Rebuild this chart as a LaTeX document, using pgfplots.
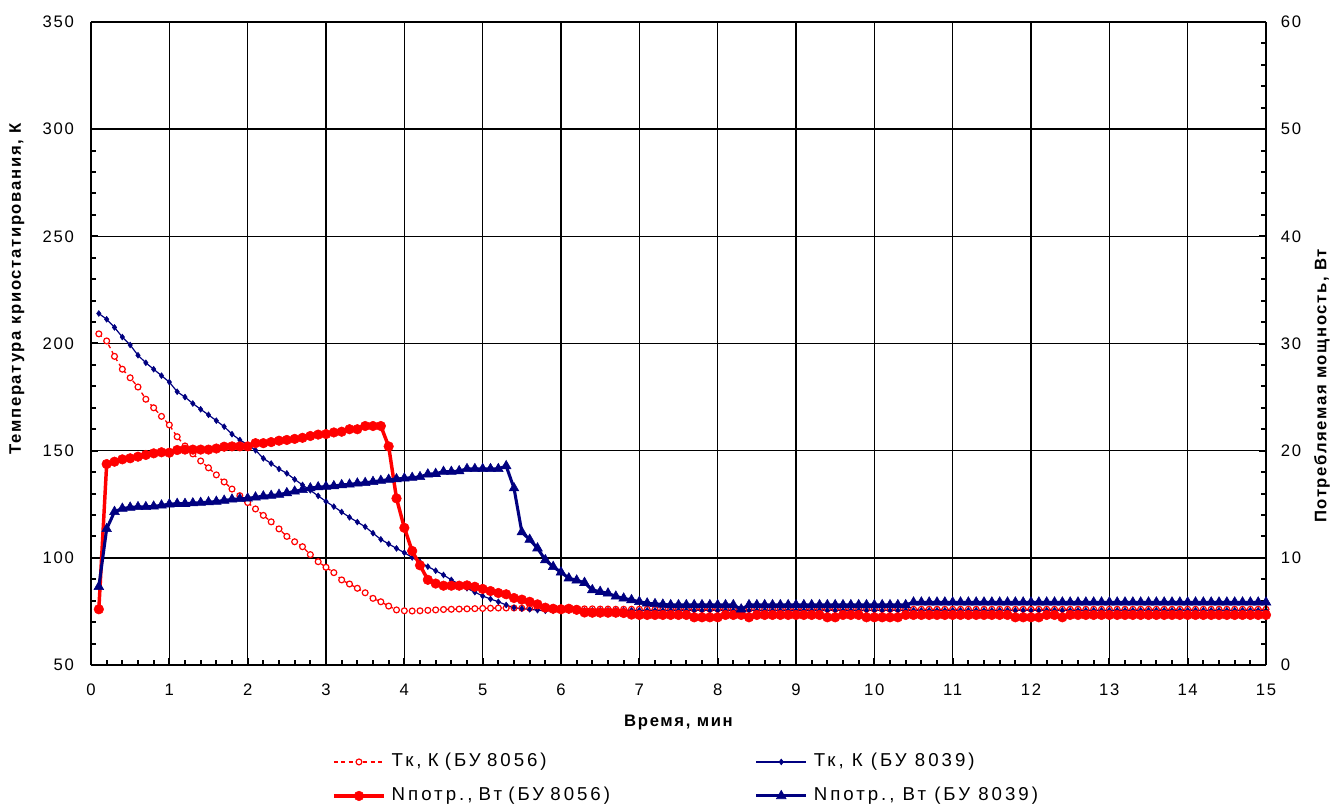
\documentclass[border=0pt]{standalone}
\usepackage{pgfplots}
\pgfplotsset{compat=1.18}
\usepackage{pgfplotstable}
\usepackage{fontspec}
\setmainfont{Liberation Sans}
\newfontfamily\tickfnt[LetterSpace=10]{Liberation Sans}
\newfontfamily\labfnt[LetterSpace=10]{Liberation Sans}
\newfontfamily\legfnt[LetterSpace=16]{Liberation Sans}
\definecolor{navyb}{RGB}{0,0,128}
\definecolor{redc}{RGB}{255,0,0}

\pgfplotstableread{
x tkr tkb nr nb
0.1 204.5 214.0 5.20 7.30
0.2 201.2 211.3 18.75 12.70
0.3 194.0 207.5 18.97 14.30
0.4 188.0 203.0 19.19 14.60
0.5 184.0 199.3 19.29 14.70
0.6 179.7 194.5 19.44 14.75
0.7 174.0 191.0 19.60 14.75
0.8 170.0 188.0 19.75 14.80
0.9 166.0 185.0 19.85 14.90
1.0 162.0 182.0 19.81 15.00
1.1 156.5 177.5 20.06 15.05
1.2 152.2 175.0 20.10 15.05
1.3 148.5 172.0 20.10 15.10
1.4 145.2 169.3 20.10 15.15
1.5 142.0 166.7 20.10 15.20
1.6 138.7 164.0 20.20 15.25
1.7 135.4 161.2 20.37 15.35
1.8 132.1 157.7 20.40 15.45
1.9 129.0 155.0 20.40 15.50
2.0 125.8 152.8 20.40 15.55
2.1 122.8 150.2 20.70 15.65
2.2 119.8 146.4 20.70 15.75
2.3 116.8 144.0 20.80 15.80
2.4 113.5 141.5 20.93 15.90
2.5 110.0 139.4 21.00 16.05
2.6 107.5 136.6 21.10 16.20
2.7 105.2 134.0 21.20 16.35
2.8 101.5 131.5 21.37 16.50
2.9 98.2 128.9 21.50 16.60
3.0 95.6 126.3 21.55 16.65
3.1 93.1 123.9 21.70 16.70
3.2 89.7 121.4 21.77 16.80
3.3 87.8 118.9 22.00 16.85
3.4 85.8 116.7 22.00 16.95
3.5 83.7 114.5 22.30 17.00
3.6 81.1 111.5 22.30 17.10
3.7 79.5 108.6 22.30 17.20
3.8 77.5 106.5 20.40 17.30
3.9 75.7 104.4 15.55 17.35
4.0 75.3 102.4 12.80 17.42
4.1 75.2 100.2 10.64 17.48
4.2 75.3 98.0 9.30 17.55
4.3 75.5 95.9 7.95 17.80
4.4 75.7 94.0 7.60 17.85
4.5 75.9 92.0 7.40 18.04
4.6 76.0 89.7 7.40 18.04
4.7 76.1 87.7 7.40 18.10
4.8 76.2 85.8 7.43 18.30
4.9 76.3 84.0 7.30 18.30
5.0 76.4 82.2 7.10 18.30
5.1 76.5 80.8 6.90 18.30
5.2 76.6 79.5 6.72 18.30
5.3 76.6 78.0 6.60 18.57
5.4 76.6 76.7 6.25 16.50
5.5 76.5 76.3 6.10 12.40
5.6 76.5 76.0 5.90 11.70
5.7 76.5 75.6 5.66 10.90
5.8 76.5 75.3 5.35 9.80
5.9 76.5 75.3 5.25 9.17
6.0 76.5 75.4 5.20 8.65
6.1 76.4 75.4 5.25 8.10
6.2 76.3 75.4 5.15 7.90
6.3 76.2 75.5 4.90 7.68
6.4 76.2 75.5 4.88 7.00
6.5 76.1 75.5 4.88 6.84
6.6 76.1 75.5 4.88 6.69
6.7 76.0 75.5 4.88 6.40
6.8 76.0 75.5 4.85 6.22
6.9 76.0 75.5 4.70 6.07
7.0 76.0 75.5 4.67 5.90
7.1 76.0 75.5 4.67 5.76
7.2 76.0 75.5 4.67 5.70
7.3 76.0 75.5 4.67 5.65
7.4 76.0 75.5 4.67 5.60
7.5 76.0 75.5 4.67 5.60
7.6 76.0 75.5 4.67 5.60
7.7 76.0 75.5 4.45 5.60
7.8 76.0 75.5 4.45 5.60
7.9 76.0 75.5 4.45 5.60
8.0 76.0 75.5 4.45 5.60
8.1 76.0 75.5 4.67 5.60
8.2 76.0 75.5 4.67 5.60
8.3 76.0 75.5 4.67 5.20
8.4 76.0 75.5 4.45 5.60
8.5 76.0 75.5 4.67 5.60
8.6 76.0 75.5 4.67 5.60
8.7 76.0 75.5 4.67 5.60
8.8 76.0 75.5 4.67 5.60
8.9 76.0 75.5 4.67 5.60
9.0 76.0 75.5 4.67 5.60
9.1 76.0 75.5 4.67 5.60
9.2 76.0 75.5 4.67 5.60
9.3 76.0 75.5 4.67 5.60
9.4 76.0 75.5 4.45 5.60
9.5 76.0 75.5 4.45 5.60
9.6 76.0 75.5 4.67 5.60
9.7 76.0 75.5 4.67 5.60
9.8 76.0 75.5 4.67 5.60
9.9 76.0 75.5 4.45 5.60
10.0 76.0 75.5 4.45 5.60
10.1 76.0 75.5 4.45 5.60
10.2 76.0 75.5 4.45 5.60
10.3 76.0 75.5 4.45 5.60
10.4 76.0 75.5 4.67 5.60
10.5 76.0 75.5 4.67 5.85
10.6 76.0 75.5 4.67 5.85
10.7 76.0 75.5 4.67 5.85
10.8 76.0 75.5 4.67 5.85
10.9 76.0 75.5 4.67 5.85
11.0 76.0 75.5 4.67 5.85
11.1 76.0 75.5 4.67 5.85
11.2 76.0 75.5 4.67 5.85
11.3 76.0 75.5 4.67 5.85
11.4 76.0 75.5 4.67 5.85
11.5 76.0 75.5 4.67 5.85
11.6 76.0 75.5 4.67 5.85
11.7 76.0 75.5 4.67 5.85
11.8 76.0 75.5 4.45 5.85
11.9 76.0 75.5 4.45 5.85
12.0 76.0 75.5 4.45 5.85
12.1 76.0 75.5 4.45 5.85
12.2 76.0 75.5 4.67 5.85
12.3 76.0 75.5 4.67 5.85
12.4 76.0 75.5 4.45 5.85
12.5 76.0 75.5 4.67 5.85
12.6 76.0 75.5 4.67 5.85
12.7 76.0 75.5 4.67 5.85
12.8 76.0 75.5 4.67 5.85
12.9 76.0 75.5 4.67 5.85
13.0 76.0 75.5 4.67 5.85
13.1 76.0 75.5 4.67 5.85
13.2 76.0 75.5 4.67 5.85
13.3 76.0 75.5 4.67 5.85
13.4 76.0 75.5 4.67 5.85
13.5 76.0 75.5 4.67 5.85
13.6 76.0 75.5 4.67 5.85
13.7 76.0 75.5 4.67 5.85
13.8 76.0 75.5 4.67 5.85
13.9 76.0 75.5 4.67 5.85
14.0 76.0 75.5 4.67 5.85
14.1 76.0 75.5 4.67 5.85
14.2 76.0 75.5 4.67 5.85
14.3 76.0 75.5 4.67 5.85
14.4 76.0 75.5 4.67 5.85
14.5 76.0 75.5 4.67 5.85
14.6 76.0 75.5 4.67 5.85
14.7 76.0 75.5 4.67 5.85
14.8 76.0 75.5 4.67 5.85
14.9 76.0 75.5 4.67 5.85
15.0 76.0 75.5 4.67 5.85
}\datatable

\tikzset{
  tkrstyle/.style={redc, line width=1pt, dash pattern=on 3pt off 2.5pt, mark=*, mark size=2.2pt, mark options={solid, fill=white, draw=redc, line width=0.9pt}},
  tkbstyle/.style={navyb, line width=0.9pt, mark=diamond*, mark size=2.2pt, mark options={solid, line width=0.4pt}},
  nrstyle/.style={redc, line width=2.6pt, mark=*, mark size=3.6pt, mark options={solid, line width=0.4pt}},
  nbstyle/.style={navyb, line width=2.3pt, mark=triangle*, mark size=4.2pt, mark options={solid, line width=0.4pt}},
}

\begin{document}
\begin{tikzpicture}
\path[use as bounding box] (-68.25pt,-105.75pt) rectangle (931.5pt,498.75pt);
\begin{axis}[
  scale only axis, width=881.25pt, height=482.25pt,
  xmin=0, xmax=15, ymin=50, ymax=350,
  axis x line*=bottom, axis y line*=left,
  axis line style={line width=2pt, black},
  xtick={0,...,15}, ytick={50,100,...,300},
  extra y ticks={350},
  extra y tick style={grid style={gray!70, line width=0.8pt}},
  minor x tick num=4, minor y tick num=4,
  tick align=inside, major tick length=5pt, minor tick length=3.5pt,
  tick style={black, line width=1.5pt},
  grid=major, major grid style={black, line width=1pt},
  /pgf/number format/assume math mode=true,
  tick label style={font=\tickfnt\fontsize{12.5}{15}\selectfont},
  yticklabel style={xshift=-9.3pt},
  xticklabel style={yshift=-10.8pt},
  xlabel={Время, мин},
  ylabel={Температура криостатирования, К},
  label style={font=\labfnt\bfseries\fontsize{12.5}{15}\selectfont},
  xlabel style={at={(axis description cs:0.5,0)}, anchor=base, yshift=-45.75pt},
  ylabel style={at={(axis description cs:-0.063,0.585)}, anchor=center},
]
\addplot[tkrstyle] table[x=x,y=tkr]{\datatable};
\addplot[tkbstyle] table[x=x,y=tkb]{\datatable};
\end{axis}
\begin{axis}[
  scale only axis, width=881.25pt, height=482.25pt,
  xmin=0, xmax=15, ymin=0, ymax=60,
  axis x line=none, axis y line*=right,
  axis line style={line width=2pt, black},
  ytick={0,10,...,60}, minor y tick num=4,
  tick align=inside, major tick length=5pt, minor tick length=3.5pt,
  tick style={black, line width=1.5pt},
  /pgf/number format/assume math mode=true,
  tick label style={font=\tickfnt\fontsize{12.5}{15}\selectfont},
  yticklabel style={xshift=7.6pt},
  ylabel={Потребляемая мощность, Вт},
  label style={font=\labfnt\bfseries\fontsize{12.5}{15}\selectfont},
  ylabel style={at={(axis description cs:1.0477,0.434)}, anchor=center},
  legend columns=2, legend cell align=left,
  legend image code/.code={\draw[mark repeat=2,mark phase=2,#1] plot coordinates {(0pt,0pt) (18.75pt,0pt) (37.5pt,0pt)};},
  legend style={at={(axis description cs:0.2051,-0.1353)}, anchor=north west,
    draw=none, fill=none, inner sep=0pt, row sep=11pt,
    font=\legfnt\fontsize{14}{16}\selectfont,
    nodes={inner sep=0pt, text height=11pt, text depth=3.5pt},
    /tikz/column 1/.style={column sep=4.5pt},
    /tikz/column 2/.style={column sep=92.25pt, nodes={text width=180pt}},
    /tikz/column 3/.style={column sep=4.5pt}},
]
\addlegendimage{tkrstyle}
\addlegendentry{Тк, К (БУ 8056)}
\addlegendimage{tkbstyle}
\addlegendentry{Тк, К (БУ 8039)}
\addplot[nrstyle] table[x=x,y=nr]{\datatable};
\addlegendentry{Nпотр., Вт (БУ 8056)}
\addplot[nbstyle] table[x=x,y=nb]{\datatable};
\addlegendentry{Nпотр., Вт (БУ 8039)}
\end{axis}
\end{tikzpicture}
\end{document}
